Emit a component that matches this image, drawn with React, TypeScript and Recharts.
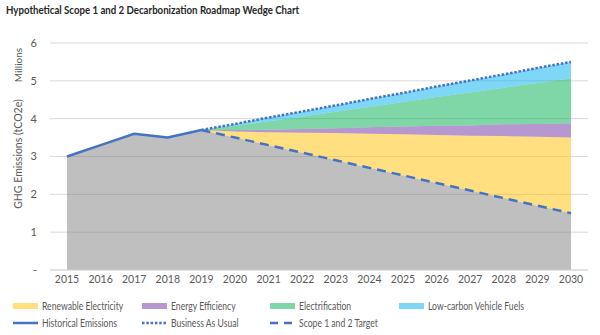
import React from 'react';
import {
  ComposedChart,
  Area,
  Line,
  XAxis,
  YAxis,
  CartesianGrid,
} from 'recharts';

const years = [2015, 2016, 2017, 2018, 2019, 2020, 2021, 2022, 2023, 2024, 2025, 2026, 2027, 2028, 2029, 2030];

// millions tCO2e
const historical = [3.0, 3.3, 3.6, 3.5, 3.7, null, null, null, null, null, null, null, null, null, null, null];
const businessAsUsual = [null, null, null, null, 3.7, 3.86, 4.03, 4.19, 4.35, 4.52, 4.68, 4.85, 5.01, 5.17, 5.34, 5.5];
const target = [null, null, null, null, 3.7, 3.5, 3.3, 3.1, 2.9, 2.7, 2.5, 2.3, 2.1, 1.9, 1.7, 1.5];

// remaining emissions (grey) = history, then the target path
const remaining = [3.0, 3.3, 3.6, 3.5, 3.7, 3.5, 3.3, 3.1, 2.9, 2.7, 2.5, 2.3, 2.1, 1.9, 1.7, 1.5];

// wedges (stacked on top of the remaining emissions)
const renewable = [0, 0, 0, 0, 0, 0.16, 0.34, 0.53, 0.72, 0.9, 1.09, 1.27, 1.45, 1.64, 1.82, 2.0];
const efficiency = [0, 0, 0, 0, 0, 0.04, 0.07, 0.1, 0.13, 0.17, 0.2, 0.24, 0.27, 0.31, 0.34, 0.38];
const electrification = [0, 0, 0, 0, 0, 0.11, 0.22, 0.32, 0.43, 0.54, 0.65, 0.76, 0.87, 0.97, 1.08, 1.19];
const vehicleFuels = [0, 0, 0, 0, 0, 0.05, 0.1, 0.14, 0.17, 0.21, 0.24, 0.28, 0.32, 0.35, 0.4, 0.43];

const yTicks = [0, 1, 2, 3, 4, 5, 6];

const data = years.map((y, i) => ({
  year: String(y),
  remaining: remaining[i],
  renewable: renewable[i],
  efficiency: efficiency[i],
  electrification: electrification[i],
  vehicleFuels: vehicleFuels[i],
  historical: historical[i],
  bau: businessAsUsual[i],
  target: target[i],
}));

const BLUE = '#4472C4';
const TEXT = '#595959';
const FONT = 'Lato, "Open Sans", sans-serif';

type LegendItem = { label: string; kind: 'area' | 'solid' | 'dot' | 'dash'; color?: string; x: number; row: number };

const legendItems: LegendItem[] = [
  { label: 'Renewable Electricity', kind: 'area', color: '#FFC000', x: 13, row: 0 },
  { label: 'Energy Efficiency', kind: 'area', color: '#7030A0', x: 142, row: 0 },
  { label: 'Electrification', kind: 'area', color: '#00B050', x: 270, row: 0 },
  { label: 'Low-carbon Vehicle Fuels', kind: 'area', color: '#00B0F0', x: 399, row: 0 },
  { label: 'Historical Emissions', kind: 'solid', x: 13, row: 1 },
  { label: 'Business As Usual', kind: 'dot', x: 142, row: 1 },
  { label: 'Scope 1 and 2 Target', kind: 'dash', x: 270, row: 1 },
];

const LegendSwatch: React.FC<{ item: LegendItem }> = ({ item }) => (
  <svg width={26} height={8} style={{ display: 'block', flex: 'none' }}>
    {item.kind === 'area' && <rect x={0} y={1} width={25} height={6} fill={item.color} fillOpacity={0.5} />}
    {item.kind === 'solid' && <line x1={0} x2={25} y1={4} y2={4} stroke={BLUE} strokeWidth={2.5} />}
    {item.kind === 'dot' && <line x1={0} x2={25} y1={4} y2={4} stroke={BLUE} strokeWidth={2.5} strokeDasharray="2.5 1.8" />}
    {item.kind === 'dash' && <line x1={0} x2={25} y1={4} y2={4} stroke={BLUE} strokeWidth={2.5} strokeDasharray="8 6" />}
  </svg>
);

export default function App() {
  return (
    <div style={{ position: 'fixed', left: 0, top: 0, width: 600, height: 335, background: '#fff', fontFamily: FONT }}>
      <div
        style={{
          position: 'absolute', left: 6, top: 3, fontSize: 11.5, fontWeight: 700, color: '#262626',
          whiteSpace: 'nowrap', transform: 'scaleX(0.84)', transformOrigin: 'left center',
        }}
      >
        Hypothetical Scope 1 and 2 Decarbonization Roadmap Wedge Chart
      </div>

      <div style={{ position: 'absolute', left: 18, top: 154, transform: 'translate(-50%, -50%) rotate(-90deg)', fontSize: 10.5, color: TEXT, whiteSpace: 'nowrap' }}>
        GHG Emissions (tCO2e)
      </div>
      <div style={{ position: 'absolute', left: 18, top: 65, transform: 'translate(-50%, -50%) rotate(-90deg)', fontSize: 10, color: TEXT, whiteSpace: 'nowrap' }}>
        Millions
      </div>

      <div style={{ position: 'absolute', left: 0, top: 0 }}>
        <ComposedChart width={600} height={295} data={data} margin={{ top: 43, right: 12, left: 0, bottom: 5 }}>
          <CartesianGrid vertical={false} stroke="#d9d9d9" />
          <XAxis
            dataKey="year"
            interval={0}
            padding={{ left: 17, right: 17 }}
            tickLine={false}
            axisLine={{ stroke: '#d9d9d9' }}
            tickSize={0}
            tickMargin={6}
            height={20}
            tick={{ fontSize: 10.5, fill: TEXT, fontFamily: FONT }}
          />
          <YAxis
            type="number"
            domain={[0, 6]}
            ticks={yTicks}
            width={50}
            tickLine={false}
            axisLine={false}
            tickSize={0}
            tickMargin={13}
            tickFormatter={(v: number) => (v === 0 ? '-' : String(v))}
            tick={{ fontSize: 11, fill: TEXT, fontFamily: FONT }}
          />
          <Area type="linear" dataKey="remaining" stackId="w" stroke="none" fill="#808080" fillOpacity={0.5} isAnimationActive={false} />
          <Area type="linear" dataKey="renewable" stackId="w" stroke="none" fill="#FFC000" fillOpacity={0.5} isAnimationActive={false} />
          <Area type="linear" dataKey="efficiency" stackId="w" stroke="none" fill="#7030A0" fillOpacity={0.5} isAnimationActive={false} />
          <Area type="linear" dataKey="electrification" stackId="w" stroke="none" fill="#00B050" fillOpacity={0.5} isAnimationActive={false} />
          <Area type="linear" dataKey="vehicleFuels" stackId="w" stroke="none" fill="#00B0F0" fillOpacity={0.5} isAnimationActive={false} />
          <Line type="linear" dataKey="historical" stroke={BLUE} strokeWidth={2.5} dot={false} activeDot={false} isAnimationActive={false} />
          <Line type="linear" dataKey="bau" stroke={BLUE} strokeWidth={2.5} strokeDasharray="2.5 1.8" dot={false} activeDot={false} isAnimationActive={false} />
          <Line type="linear" dataKey="target" stroke={BLUE} strokeWidth={2.5} strokeDasharray="9 6" dot={false} activeDot={false} isAnimationActive={false} />
        </ComposedChart>
      </div>

      {legendItems.map((item) => (
        <div
          key={item.label}
          style={{ position: 'absolute', left: item.x, top: item.row === 0 ? 299 : 316, display: 'flex', alignItems: 'center', gap: 3, fontSize: 10.5, color: TEXT, whiteSpace: 'nowrap', height: 14 }}
        >
          <LegendSwatch item={item} />
          <span style={{ display: 'inline-block', transform: 'scaleX(0.82)', transformOrigin: 'left center' }}>{item.label}</span>
        </div>
      ))}
    </div>
  );
}
